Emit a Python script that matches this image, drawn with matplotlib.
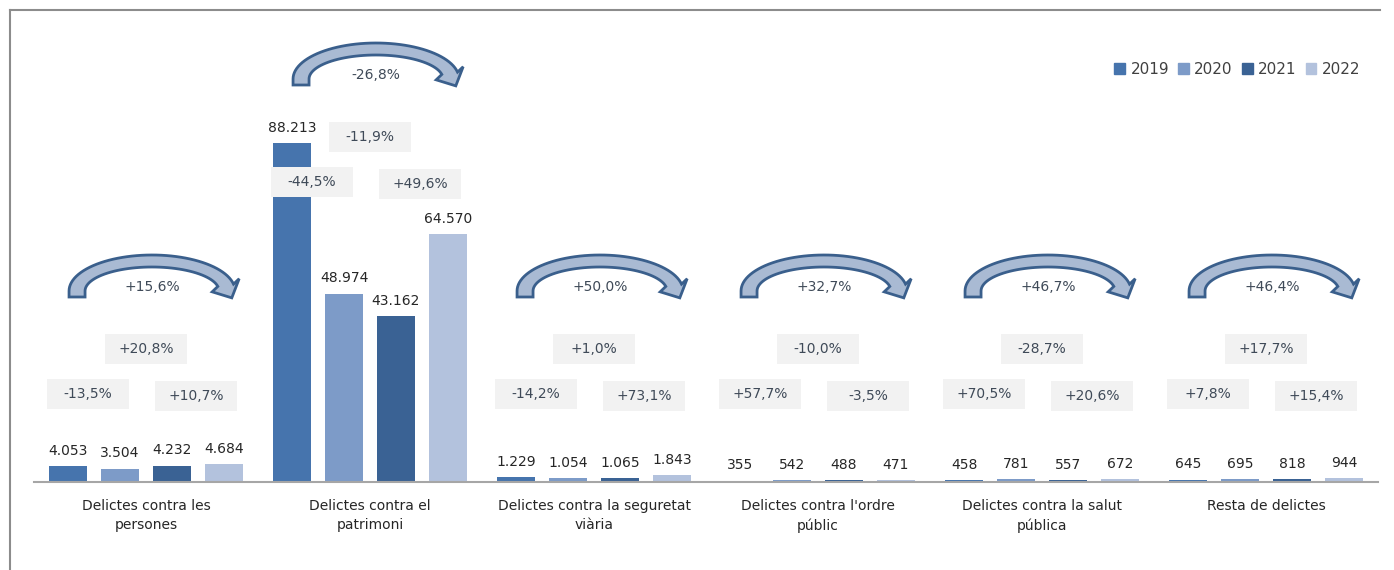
import matplotlib
matplotlib.use('Agg')
import matplotlib.pyplot as plt
import matplotlib.transforms as mtransforms
from matplotlib.patches import Polygon, Patch, Rectangle
from matplotlib.lines import Line2D
import numpy as np

# data
categories = ['Delictes contra les\npersones', 'Delictes contra el\npatrimoni',
              'Delictes contra la seguretat\nviària', "Delictes contra l'ordre\npúblic",
              'Delictes contra la salut\npública', 'Resta de delictes']
years = ['2019', '2020', '2021', '2022']
v2019 = [4053, 88213, 1229, 355, 458, 645]
v2020 = [3504, 48974, 1054, 542, 781, 695]
v2021 = [4232, 43162, 1065, 488, 557, 818]
v2022 = [4684, 64570, 1843, 471, 672, 944]
chg_19_20 = ['-13,5%', '-44,5%', '-14,2%', '+57,7%', '+70,5%', '+7,8%']
chg_20_21 = ['+20,8%', '-11,9%', '+1,0%', '-10,0%', '-28,7%', '+17,7%']
chg_21_22 = ['+10,7%', '+49,6%', '+73,1%', '-3,5%', '+20,6%', '+15,4%']
chg_19_22 = ['+15,6%', '-26,8%', '+50,0%', '+32,7%', '+46,7%', '+46,4%']

colors = ['#4674AD', '#7D9BC8', '#3A6294', '#B3C2DD']
txt = '#404040'
pct_col = '#3F4A58'

fig = plt.figure(figsize=(13.94, 5.70), dpi=100)
ax = fig.add_axes([34/1394, 88/570, 1344/1394, 384.3/570])

series = [v2019, v2020, v2021, v2022]
x = np.arange(len(categories))
step, width = 0.232, 0.17
for j, vals in enumerate(series):
    xs = x + (j - 1.5) * step
    ax.bar(xs, vals, width, color=colors[j], zorder=2)
    for xi, v in zip(xs, vals):
        ax.annotate(f'{v:,}'.replace(',', '.'), (xi, v), xytext=(0, 6),
                    textcoords='offset points', ha='center', va='bottom',
                    fontsize=10, color='#262626')

ax.set_xlim(-0.5, 5.5)
ax.set_ylim(0, 100000)
for s in ['top', 'right', 'left']:
    ax.spines[s].set_visible(False)
ax.spines['bottom'].set_color('#A6A6A6')
ax.spines['bottom'].set_linewidth(1.5)
ax.set_yticks([])
ax.set_xticks(x)
ax.set_xticklabels(categories, fontsize=10, color='#262626', linespacing=1.5)
ax.tick_params(axis='x', length=0, pad=12)

# vertical pixel shift of the change labels for the tall group
lift = [0, 212, 0, 0, 0, 0]


def at(xc, yc):
    # pixel offsets around a data point
    return mtransforms.Affine2D() + mtransforms.ScaledTranslation(xc, yc, ax.transData)


def pct_box(xc, yc, s):
    ax.add_patch(Rectangle((-41, -15), 82, 30, transform=at(xc, yc), fc='#F2F2F2',
                           ec='none', clip_on=False, zorder=3))
    ax.text(xc, yc, s, ha='center', va='center', fontsize=10, color=pct_col, zorder=4)


def arc_arrow(xc, y0):
    # hollow curved arrow, coordinates in pixels relative to (xc, y0)
    a_o, b_o, a_i, b_i = 83, 36, 67, 24
    cy = 6
    th1 = np.radians(11)
    t = np.linspace(np.pi, th1, 50)
    outer = np.c_[a_o * np.cos(t), cy + b_o * np.sin(t)]
    inner = np.c_[a_i * np.cos(t[::-1]), cy + b_i * np.sin(t[::-1])]
    am, bm = (a_o + a_i) / 2, (b_o + b_i) / 2
    mid = np.array([am * np.cos(th1), cy + bm * np.sin(th1)])
    d = np.array([am * np.sin(th1), -bm * np.cos(th1)])
    d /= np.hypot(*d)
    n = np.array([-d[1], d[0]])
    if n[0] < 0:
        n = -n
    head = [mid + 15 * n, mid + 14 * d, mid - 15 * n]
    pts = np.vstack([[[-a_o, 0]], outer, head, inner, [[-a_i, 0]]])
    ax.add_patch(Polygon(pts, closed=True, transform=at(xc, y0), fc='#A9BAD3',
                         ec='#3A5F8C', lw=2, clip_on=False, zorder=3))


px = 100000 / 384.3
for i in range(len(categories)):
    up = lift[i] * px
    pct_box(i - 0.259, 88 * px + up, chg_19_20[i])
    pct_box(i + 0.223, 86 * px + up, chg_21_22[i])
    pct_box(i + 0.0, 133 * px + up, chg_20_21[i])
    ax.text(i + 0.027, 195 * px + up, chg_19_22[i], ha='center', va='center',
            fontsize=10, color=pct_col, clip_on=False)
    arc_arrow(i + 0.027, 185 * px + up)

handles = [Patch(color=c, label=y) for c, y in zip(colors, years)]
fig.legend(handles=handles, loc='center right', bbox_to_anchor=(1374/1394, 1 - 69/570),
           ncol=4, frameon=False, fontsize=11, handlelength=0.7, handleheight=0.7,
           columnspacing=0.6, handletextpad=0.35, labelcolor=txt)

# outer frame
fig.add_artist(Line2D([10/1394, 10/1394], [0, 1 - 10/570], color='#8C8C8C', lw=1.5))
fig.add_artist(Line2D([10/1394, 1380/1394], [1 - 10/570, 1 - 10/570], color='#8C8C8C', lw=1.5))

fig.savefig('out.png', dpi=100)
